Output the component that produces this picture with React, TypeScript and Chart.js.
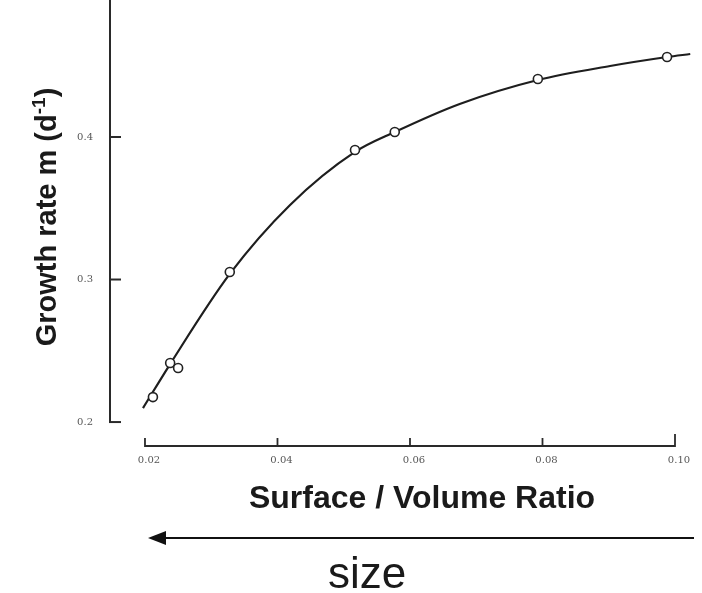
import React, { useEffect, useRef } from "react";
import { Chart, registerables } from "chart.js";

Chart.register(...registerables);

// Measured points (surface / volume ratio vs growth rate)
const pointSV = [0.0212, 0.0238, 0.025, 0.0328, 0.0517, 0.0577, 0.0793, 0.0988];
const pointGrowth = [0.2175, 0.2414, 0.2379, 0.3053, 0.3909, 0.4035, 0.4407, 0.4561];

// Fitted curve
const curveSV = [0.0197, 0.0238, 0.0328, 0.0419, 0.0517, 0.0577, 0.0675, 0.0793, 0.0902, 0.0988, 0.1023];
const curveGrowth = [0.2098, 0.2407, 0.3039, 0.3523, 0.3895, 0.4035, 0.4232, 0.44, 0.4498, 0.4561, 0.4582];

const xTickValues = [0.02, 0.04, 0.06, 0.08, 0.1];
const xTickLabels = ["0.02", "0.04", "0.06", "0.08", "0.10"];
const yTickValues = [0.2, 0.3, 0.4];
const yTickLabels = ["0.2", "0.3", "0.4"];

const xTitle = "Surface / Volume Ratio";
const yTitleMain = "Growth rate m (d";
const yTitleSup = "-1";
const yTitleEnd = ")";
const arrowLabel = "size";

const X_MIN = 0.01472;
const X_MAX = 0.1;
const Y_MIN = 0.1832;
const Y_MAX = 0.4961;

const decoPlugin = {
  id: "deco",
  afterDatasetsDraw(chart: any) {
    const ctx = chart.ctx;
    const xs = chart.scales.x;
    const ys = chart.scales.y;
    const area = chart.chartArea;
    ctx.save();
    ctx.strokeStyle = "#2a2a2a";
    ctx.lineCap = "butt";
    // y axis line
    ctx.lineWidth = 2;
    const yTop = ys.getPixelForValue(Y_MAX);
    const yBot = ys.getPixelForValue(yTickValues[0]);
    ctx.beginPath();
    ctx.moveTo(area.left, yTop);
    ctx.lineTo(area.left, yBot);
    ctx.stroke();
    yTickValues.forEach((v) => {
      const p = ys.getPixelForValue(v);
      ctx.beginPath();
      ctx.moveTo(area.left - 1, p);
      ctx.lineTo(area.left + 11, p);
      ctx.stroke();
    });
    // x axis line
    const xl = xs.getPixelForValue(xTickValues[0]);
    const xr = xs.getPixelForValue(xTickValues[xTickValues.length - 1]);
    ctx.lineWidth = 1.8;
    ctx.beginPath();
    ctx.moveTo(xl, area.bottom);
    ctx.lineTo(xr, area.bottom);
    ctx.stroke();
    xTickValues.forEach((v, i) => {
      const p = xs.getPixelForValue(v);
      ctx.beginPath();
      ctx.moveTo(p, area.bottom + 1);
      ctx.lineTo(p, area.bottom - (i === xTickValues.length - 1 ? 12 : 8));
      ctx.stroke();
    });
    ctx.restore();
  },
  afterDraw(chart: any) {
    const ctx = chart.ctx;
    ctx.save();
    ctx.fillStyle = "#1a1a1a";
    // x title
    ctx.font = 'bold 32px "Liberation Sans", Arial, sans-serif';
    ctx.textAlign = "center";
    ctx.textBaseline = "alphabetic";
    ctx.fillText(xTitle, 422, 508);

    // y title (rotated, with superscript)
    ctx.save();
    ctx.translate(56, 217);
    ctx.rotate(-Math.PI / 2);
    const mainFont = 'bold 29px "Liberation Sans", Arial, sans-serif';
    const supFont = 'bold 19px "Liberation Sans", Arial, sans-serif';
    ctx.font = mainFont;
    const w1 = ctx.measureText(yTitleMain).width;
    const w3 = ctx.measureText(yTitleEnd).width;
    ctx.font = supFont;
    const w2 = ctx.measureText(yTitleSup).width;
    const total = w1 + w2 + w3;
    let x0 = -total / 2;
    ctx.textAlign = "left";
    ctx.font = mainFont;
    ctx.fillText(yTitleMain, x0, 0);
    x0 += w1;
    ctx.font = supFont;
    ctx.fillText(yTitleSup, x0, -11);
    x0 += w2;
    ctx.font = mainFont;
    ctx.fillText(yTitleEnd, x0, 0);
    ctx.restore();

    // arrow
    ctx.strokeStyle = "#111";
    ctx.lineWidth = 2;
    ctx.beginPath();
    ctx.moveTo(162, 538);
    ctx.lineTo(694, 538);
    ctx.stroke();
    ctx.fillStyle = "#111";
    ctx.beginPath();
    ctx.moveTo(148, 538);
    ctx.lineTo(166, 531);
    ctx.lineTo(166, 545);
    ctx.closePath();
    ctx.fill();

    // size label
    ctx.font = '44px "Liberation Sans", Arial, sans-serif';
    ctx.textAlign = "center";
    ctx.fillStyle = "#1a1a1a";
    ctx.fillText(arrowLabel, 367, 588);
    ctx.restore();
  },
};

export default function App() {
  const canvasRef = useRef<HTMLCanvasElement | null>(null);

  useEffect(() => {
    if (!canvasRef.current) return;
    const chart = new Chart(canvasRef.current, {
      type: "scatter",
      data: {
        datasets: [
          {
            label: "Observed",
            data: pointSV.map((x, i) => ({ x, y: pointGrowth[i] })),
            pointRadius: 4.5,
            pointBorderWidth: 1.6,
            pointBorderColor: "#222",
            pointBackgroundColor: "#ffffff",
            showLine: false,
            clip: false as any,
          },
          {
            label: "Fit",
            data: curveSV.map((x, i) => ({ x, y: curveGrowth[i] })),
            showLine: true,
            borderColor: "#1e1e1e",
            borderWidth: 2.2,
            pointRadius: 0,
            cubicInterpolationMode: "monotone",
            clip: false as any,
          },
        ],
      },
      options: {
        animation: false,
        responsive: true,
        maintainAspectRatio: false,
        layout: { autoPadding: false, padding: { left: 0, right: 27, top: 0, bottom: 0 } },
        plugins: {
          legend: { display: false },
          tooltip: { enabled: false },
        },
        scales: {
          x: {
            type: "linear",
            min: X_MIN,
            max: X_MAX,
            afterBuildTicks: (s: any) => {
              s.ticks = xTickValues.map((v) => ({ value: v }));
            },
            afterFit: (s: any) => {
              s.height = 147;
              s.paddingLeft = 0;
              s.paddingRight = 0;
            },
            grid: { display: false, drawTicks: false },
            border: { display: false },
            ticks: {
              autoSkip: false,
              maxRotation: 0,
              padding: 8,
              labelOffset: 4,
              color: "#555",
              font: { family: '"DejaVu Serif", serif', size: 10 },
              callback: (_v: any, i: number) => xTickLabels[i],
            },
          },
          y: {
            type: "linear",
            min: Y_MIN,
            max: Y_MAX,
            afterBuildTicks: (s: any) => {
              s.ticks = yTickValues.map((v) => ({ value: v }));
            },
            afterFit: (s: any) => {
              s.width = 110;
              s.paddingTop = 0;
              s.paddingBottom = 0;
            },
            grid: { display: false, drawTicks: false },
            border: { display: false },
            ticks: {
              autoSkip: false,
              padding: 17,
              color: "#555",
              font: { family: '"DejaVu Serif", serif', size: 10 },
              callback: (_v: any, i: number) => yTickLabels[i],
            },
          },
        },
      },
      plugins: [decoPlugin],
    });
    return () => chart.destroy();
  }, []);

  return (
    <div style={{ position: "fixed", left: 0, top: 0, width: 702, height: 593, background: "#fff" }}>
      <canvas ref={canvasRef} />
    </div>
  );
}
